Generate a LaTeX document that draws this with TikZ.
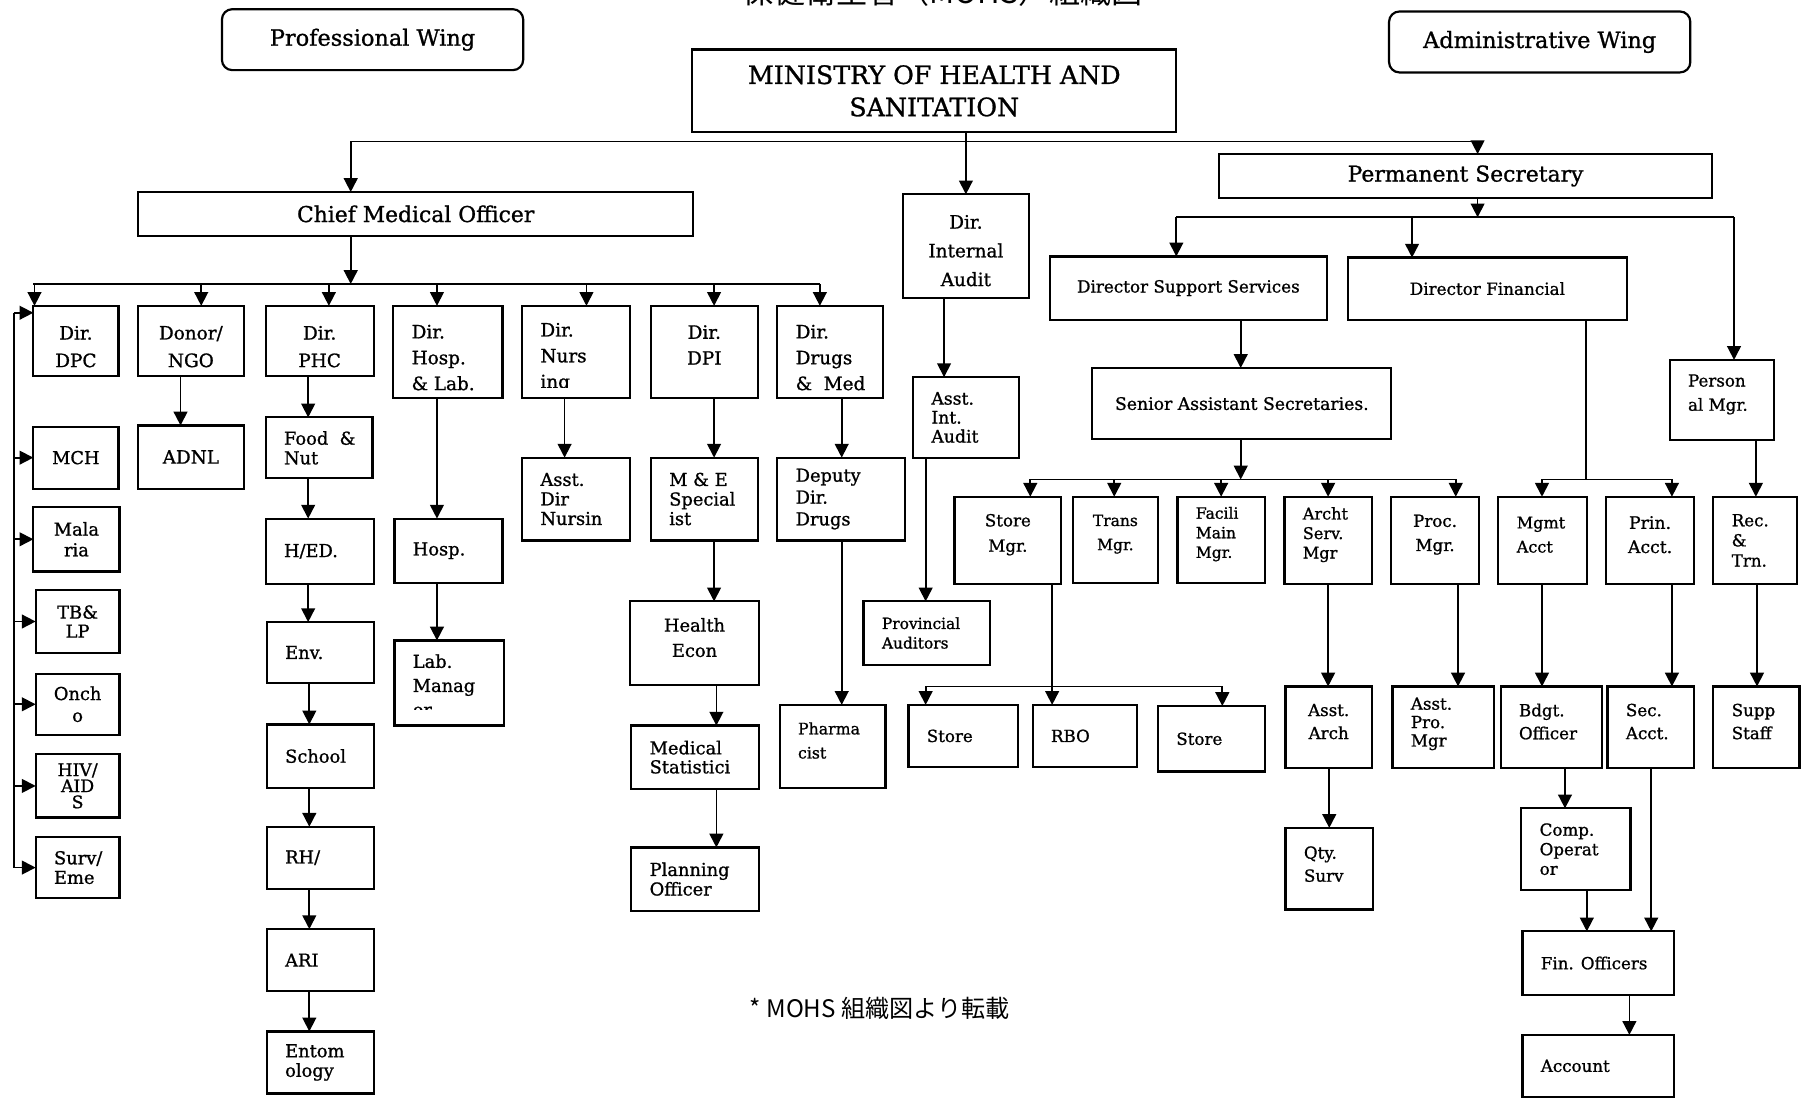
\documentclass[tikz,border=0pt]{standalone}
\usepackage{fontspec}
\setmainfont{DejaVu Serif}[FakeBold=1]
\newfontfamily\jpfont{Noto Sans CJK JP}
\usetikzlibrary{arrows.meta}
\newcommand\fz[2]{\fontsize{#1}{#2}\selectfont}
\tikzset{
  box/.style={draw, line width=1.9pt, inner sep=0pt, outer sep=0pt, rectangle},
  rbox/.style={box, rounded corners=9pt},
  tx/.style={inner sep=0pt, outer sep=0pt, font=\fz{15.5}{17}},
  ln/.style={line width=1.5pt},
  arr/.style={line width=1.5pt, -{Triangle[length=12pt,width=12pt]}},
}
% centred text box: name L T R B opts text
\newcommand\bxc[7]{%
  \node[box, minimum width={#4-#2}, minimum height={#5-#3}] (#1) at ({(#2+#4)/2},{(#3+#5)/2}) {};
  \node[tx, align=center, #6] (#1-t) at (#1.center) {#7};}
% left-aligned text box
\newcommand\bxl[7]{%
  \node[box, minimum width={#4-#2}, minimum height={#5-#3}] (#1) at ({(#2+#4)/2},{(#3+#5)/2}) {};
  \node[tx, align=left, anchor=west, #6] (#1-t) at ([xshift=16pt]#1.west) {#7};}
% vertical arrow from box to box at x
\newcommand\vdn[3]{\draw[arr] (#1.south -| #3,0) -- (#2.north -| #3,0);}
% arrow from bus coordinate down to box at x
\newcommand\bdn[3]{\draw[arr] (#1 -| #3,0) -- (#2.north -| #3,0);}
\begin{document}
\begin{tikzpicture}[x=1pt,y=-1pt]
\fill[white] (0,0) rectangle (1568,957);
\useasboundingbox (0,0) rectangle (1568,957);

% clipped title at top
\node[tx, font=\jpfont\fz{27}{30}, anchor=base] (title) at (820,3) {保健衛生省（MOHS）組織図};

% wings
\node[rbox, minimum width=262, minimum height=53] (pw) at (324,34.5) {};
\node[tx, font=\fz{19.5}{22}] (pw-t) at (pw.center) {Professional Wing};
\node[rbox, minimum width=262, minimum height=53] (aw) at (1339,36.5) {};
\node[tx, font=\fz{19.5}{22}] (aw-t) at (aw.center) {Administrative Wing};

% top level
\bxc{mohs}{602}{43}{1023}{115}{font=\fz{22}{28}}{MINISTRY OF HEALTH AND\\SANITATION}
\bxc{cmo}{120}{167}{603}{205}{font=\fz{19}{22}}{Chief Medical Officer}
\bxc{ps}{1060}{134}{1489}{172}{font=\fz{19}{22}}{Permanent Secretary}
\bxc{dia}{785}{169}{895}{259}{font=\fz{16}{25}, yshift=-4pt}{Dir.\\Internal\\Audit}
\bxc{dss}{913}{223}{1154}{278}{font=\fz{14.6}{17}}{Director Support Services}
\bxc{dfin}{1172}{224}{1415}{278}{font=\fz{14.6}{17}}{Director Financial}
\bxc{sas}{950}{320}{1210}{382}{font=\fz{15}{17}}{Senior Assistant Secretaries.}
\bxl{pm}{1452}{313}{1543}{383}{font=\fz{14.5}{21}, yshift=5pt}{Person\\al Mgr.}
\bxl{aia}{794}{328}{886}{398}{font=\fz{15}{16.5}}{Asst.\\Int.\\Audit}
\bxl{prov}{751}{523}{861}{578}{font=\fz{13.4}{17}}{Provincial\\Auditors}

% professional row 1
\bxc{dpc}{29}{266}{103}{327}{font=\fz{16}{24}, yshift=-5pt}{Dir.\\DPC}
\bxc{donor}{120}{266}{212}{327}{font=\fz{16}{24}, yshift=-5pt}{Donor/\\NGO}
\bxc{phc}{231}{266}{325}{327}{font=\fz{16}{24}, yshift=-5pt}{Dir.\\PHC}
\bxl{dhosp}{342}{266}{437}{346}{font=\fz{16}{22.5}, yshift=-5pt}{Dir.\\Hosp.\\\& Lab.}
\node[box, minimum width=94, minimum height=80] (dnurs) at (501,306) {};
\begin{scope}
\clip (dnurs.north west) rectangle ([yshift=9pt]dnurs.south east);
\node[tx, align=left, anchor=west, font=\fz{16}{22.5}, yshift=-5pt] (dnurs-t) at ([xshift=16pt]dnurs.west) {Dir.\\Nurs\\ing};
\end{scope}
\bxc{dpi}{566}{266}{659}{346}{font=\fz{16}{22.5}, yshift=6pt}{Dir.\\DPI}
\bxl{ddrug}{676}{266}{768}{346}{font=\fz{16}{22.5}, yshift=-5pt}{Dir.\\Drugs\\\&\ \ Med}

% left column
\bxc{mch}{29}{371}{103}{425}{font=\fz{15.5}{18}}{MCH}
\bxc{mal}{29}{441}{104}{497}{font=\fz{15.5}{18}}{Mala\\ria}
\bxc{tb}{31}{513}{104}{568}{font=\fz{15.5}{16.5}}{TB\&\\LP}
\bxc{onch}{31}{586}{104}{639}{font=\fz{15.5}{19}}{Onch\\o}
\bxc{hiv}{31}{656}{104}{711}{font=\fz{15}{14}}{HIV/\\AID\\S}
\bxl{surv}{31}{728}{104}{781}{font=\fz{15.5}{17}}{Surv/\\Eme}
\bxc{adnl}{120}{370}{212}{425}{font=\fz{16}{18}}{ADNL}

% PHC column
\bxl{food}{231}{363}{324}{416}{font=\fz{15.5}{17}}{Food\ \ \&\\Nut}
\bxl{hed}{231}{451}{325}{508}{}{H/ED.}
\bxl{env}{232}{541}{325}{594}{}{Env.}
\bxl{school}{232}{630}{325}{685}{}{School}
\bxl{rh}{232}{719}{325}{773}{}{RH/}
\bxl{ari}{232}{808}{325}{862}{}{ARI}
\bxl{ento}{232}{897}{325}{951}{font=\fz{15.5}{17}}{Entom\\ology}

% Hosp column
\bxl{hosp}{343}{451}{437}{507}{}{Hosp.}
\node[box, minimum width=95, minimum height=74] (lab) at (390.5,594) {};
\begin{scope}
\clip (lab.north west) rectangle ([yshift=14pt]lab.south east);
\node[tx, align=left, anchor=north west, font=\fz{15.5}{21}] (lab-t) at ([xshift=16pt,yshift=-12pt]lab.north west) {Lab.\\Manag\\er};
\end{scope}

% nursing, DPI, drugs
\bxl{adn}{454}{398}{548}{470}{font=\fz{15.5}{17}}{Asst.\\Dir\\Nursin}
\bxl{mne}{566}{398}{659}{470}{font=\fz{15.5}{17}}{M \& E\\Special\\ist}
\bxc{hec}{548}{523}{660}{596}{font=\fz{15.5}{22}, yshift=5pt}{Health\\Econ}
\bxl{med}{549}{631}{660}{686}{font=\fz{15.5}{16.5}}{Medical\\Statistici}
\bxl{plan}{549}{737}{660}{792}{font=\fz{15.5}{17}}{Planning\\Officer}
\bxl{dep}{676}{398}{787}{470}{font=\fz{15.5}{19}}{Deputy\\Dir.\\Drugs}
\bxl{pharm}{678}{613}{770}{685}{font=\fz{13.7}{21}, yshift=5pt}{Pharma\\cist}

% admin row
\bxc{stm}{830}{432}{923}{508}{font=\fz{14.5}{22}, yshift=5pt}{Store\\Mgr.}
\bxc{trm}{933}{432}{1007}{507}{font=\fz{13.5}{21}, yshift=5pt}{Trans\\Mgr.}
\bxl{fac}{1024}{432}{1100}{507}{font=\fz{13.5}{17}, yshift=5pt}{Facili\\Main\\Mgr.}
\bxl{arc}{1117}{432}{1193}{508}{font=\fz{14}{17}, yshift=5pt}{Archt\\Serv.\\Mgr}
\bxc{proc}{1210}{432}{1286}{508}{font=\fz{14.5}{21}, yshift=5pt}{Proc.\\Mgr.}
\bxl{mga}{1303}{432}{1380}{508}{font=\fz{14}{21}, yshift=5pt}{Mgmt\\Acct}
\bxc{pra}{1397}{432}{1473}{508}{font=\fz{15}{21}, yshift=5pt}{Prin.\\Acct.}
\bxl{rec}{1490}{432}{1563}{508}{font=\fz{14.5}{17.5}}{Rec.\\\&\\Trn.}

% lower admin
\bxl{st1}{790}{613}{885}{667}{font=\fz{14.5}{17}}{Store}
\bxl{rbo}{898}{613}{989}{667}{font=\fz{14.5}{17}}{RBO}
\bxl{st2}{1007}{614}{1100}{671}{font=\fz{14.5}{17}}{Store}
\bxc{aar}{1118}{597}{1193}{668}{font=\fz{14.5}{20}, yshift=5pt}{Asst.\\Arch}
\bxl{apm}{1211}{597}{1299}{668}{font=\fz{14.5}{16}, yshift=3pt}{Asst.\\Pro.\\Mgr}
\bxl{bdg}{1305}{597}{1393}{668}{font=\fz{14.5}{20}, yshift=5pt}{Bdgt.\\Officer}
\bxl{sec}{1398}{597}{1473}{668}{font=\fz{14.5}{20}, yshift=5pt}{Sec.\\Acct.}
\bxl{sup}{1490}{597}{1565}{668}{font=\fz{14.5}{20}, yshift=5pt}{Supp\\Staff}
\bxl{qty}{1118}{720}{1194}{791}{font=\fz{14.5}{20}, yshift=4pt}{Qty.\\Surv}
\bxl{comp}{1323}{703}{1418}{774}{font=\fz{14.5}{17}}{Comp.\\Operat\\or}
\bxl{fin}{1324}{810}{1456}{865}{font=\fz{14.5}{17}}{Fin. Officers}
\bxl{acc}{1324}{900}{1456}{954}{font=\fz{14.5}{17}}{Account}

% footnote
\node[tx, font=\jpfont\fz{21}{24}, anchor=west] (note) at (652,877) {* MOHS 組織図より転載};

% ---------- connectors ----------
\coordinate (mbL) at (305,123);
\coordinate (mbR) at (1285,123);
\draw[ln] (mbL) -- (mbR);
\draw[arr] (mbL) -- (mbL |- cmo.north);
\draw[arr] (mbR) -- (mbR |- ps.north);
\draw[arr] (mohs.south -| dia.north) -- (dia.north);

% CMO bus
\coordinate (cb) at (0,247);
\draw[arr] (cmo.south -| 305,0) -- (cb -| 305,0);
\draw[ln] (cb -| 29,0) -- (cb -| 713,0);
\bdn{cb}{dpc}{30}
\bdn{cb}{donor}{175}
\bdn{cb}{phc}{286}
\bdn{cb}{dhosp}{380}
\bdn{cb}{dnurs}{510}
\bdn{cb}{dpi}{621}
\bdn{cb}{ddrug}{713}

% left bracket
\coordinate (lt) at (12,272);
\draw[ln] (lt) -- (lt |- surv.west);
\draw[arr] (lt) -- (lt -| dpc.west);
\foreach \b in {mch,mal,tb,onch,hiv,surv}{\draw[arr] (lt |- \b.west) -- (\b.west);}

\vdn{donor}{adnl}{157}
\vdn{phc}{food}{268}
\vdn{food}{hed}{268}
\vdn{hed}{env}{268}
\vdn{env}{school}{269}
\vdn{school}{rh}{269}
\vdn{rh}{ari}{269}
\vdn{ari}{ento}{269}
\vdn{dhosp}{hosp}{380}
\vdn{hosp}{lab}{380}
\vdn{dnurs}{adn}{491}
\vdn{dpi}{mne}{621}
\vdn{mne}{hec}{621}
\vdn{hec}{med}{623}
\vdn{med}{plan}{623}
\vdn{ddrug}{dep}{732}
\vdn{dep}{pharm}{732}
\vdn{dia}{aia}{821}
\vdn{aia}{prov}{805}

% permanent secretary bus
\coordinate (pb) at (0,189);
\draw[arr] (ps.south -| 1285,0) -- (pb -| 1285,0);
\draw[ln] (pb -| 1023,0) -- (pb -| 1508,0);
\bdn{pb}{dss}{1023}
\bdn{pb}{dfin}{1228}
\bdn{pb}{pm}{1508}

\vdn{dss}{sas}{1079}
\coordinate (sb) at (0,417);
\draw[arr] (sas.south -| 1079,0) -- (sb -| 1079,0);
\draw[ln] (sb -| 896,0) -- (sb -| 1266,0);
\bdn{sb}{stm}{896}
\bdn{sb}{trm}{969}
\bdn{sb}{fac}{1062}
\bdn{sb}{arc}{1155}
\bdn{sb}{proc}{1266}

\draw[ln] (dfin.south -| 1379,0) -- (sb -| 1379,0);
\draw[ln] (sb -| 1341,0) -- (sb -| 1454,0);
\bdn{sb}{mga}{1341}
\bdn{sb}{pra}{1454}
\vdn{pm}{rec}{1527}

% store bus
\coordinate (tb5) at (0,597);
\vdn{stm}{rbo}{915}
\draw[ln] (tb5 -| 805,0) -- (tb5 -| 1063,0);
\bdn{tb5}{st1}{805}
\bdn{tb5}{st2}{1063}

\vdn{arc}{aar}{1155}
\vdn{aar}{qty}{1156}
\vdn{proc}{apm}{1268}
\vdn{mga}{bdg}{1341}
\vdn{pra}{sec}{1454}
\vdn{rec}{sup}{1528}
\vdn{bdg}{comp}{1361}
\vdn{comp}{fin}{1380}
\vdn{sec}{fin}{1436}
\vdn{fin}{acc}{1417}
\end{tikzpicture}
\end{document}
